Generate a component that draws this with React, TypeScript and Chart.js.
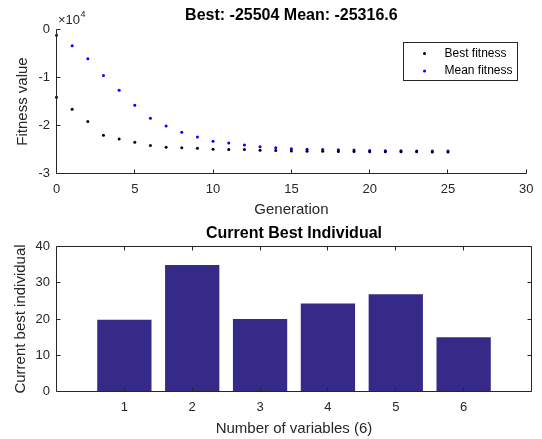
import React, { useEffect, useRef } from 'react';
import { Chart, registerables } from 'chart.js';

Chart.register(...registerables);

// ---------- data ----------
const generations = [0, 1, 2, 3, 4, 5, 6, 7, 8, 9, 10, 11, 12, 13, 14, 15, 16, 17, 18, 19, 20, 21, 22, 23, 24, 25];
const bestFitness = [
  -14100, -16600, -19170, -22020, -22790, -23480, -24170, -24520, -24660, -24730,
  -24940, -25000, -25000, -25140, -25200, -25300, -25350, -25380, -25400, -25430,
  -25450, -25470, -25480, -25490, -25500, -25504,
];
const meanFitness = [
  -1190, -3400, -6100, -9600, -12650, -15770, -18480, -20080, -21400, -22370,
  -23270, -23620, -24040, -24450, -24660, -24850, -24950, -25000, -25060, -25120,
  -25200, -25250, -25280, -25300, -25310, -25316.6,
];
const bestValue = -25504;
const meanValue = -25316.6;
const seriesLabels = ['Best fitness', 'Mean fitness'];
const fitnessExponent = 4;

const variableIndex = [1, 2, 3, 4, 5, 6];
const bestIndividual = [19.8, 34.9, 20.0, 24.3, 26.8, 15.0];
const variableTicks = [1, 2, 3, 4, 5, 6];

// ---------- style ----------
const FONT = "'Liberation Sans', Arial, Helvetica, sans-serif";
const AXIS = '#262626';
const BAR = '#352A87';
const W = 542;
const TOP_H = 222;
const BOT_H = 217;

function snap(v: number) {
  return Math.round(v - 0.5) + 0.5;
}

function axesPlugin(box: boolean) {
  return {
    id: 'matlabAxes' + (box ? 'Box' : ''),
    afterDatasetsDraw(chart: any) {
      const { ctx, chartArea } = chart;
      const { left, right, top, bottom } = chartArea;
      const x = chart.scales.x;
      const y = chart.scales.y;
      const L = snap(left), R = snap(right), T = snap(top), B = snap(bottom);
      ctx.save();
      ctx.strokeStyle = AXIS;
      ctx.lineWidth = 1;
      ctx.beginPath();
      if (box) {
        ctx.rect(L, T, R - L, B - T);
      } else {
        ctx.moveTo(L, T);
        ctx.lineTo(L, B);
        ctx.lineTo(R, B);
      }
      const tl = 4;
      x.ticks.forEach((t: any) => {
        const px = snap(x.getPixelForValue(t.value));
        ctx.moveTo(px, B);
        ctx.lineTo(px, B - tl);
        if (box) {
          ctx.moveTo(px, T);
          ctx.lineTo(px, T + tl);
        }
      });
      y.ticks.forEach((t: any) => {
        const py = snap(y.getPixelForValue(t.value));
        ctx.moveTo(L, py);
        ctx.lineTo(L + tl, py);
        if (box) {
          ctx.moveTo(R, py);
          ctx.lineTo(R - tl, py);
        }
      });
      ctx.stroke();
      ctx.restore();
    },
  };
}

function titlePlugin(text: string, cy: number) {
  return {
    id: 'matlabTitle',
    afterDraw(chart: any) {
      const { ctx, chartArea } = chart;
      ctx.save();
      ctx.fillStyle = '#000000';
      ctx.font = `bold 16px ${FONT}`;
      ctx.textAlign = 'center';
      ctx.textBaseline = 'middle';
      ctx.fillText(text, (chartArea.left + chartArea.right) / 2, cy);
      ctx.restore();
    },
  };
}

const exponentPlugin = {
  id: 'exponentLabel',
  afterDraw(chart: any) {
    const { ctx, chartArea } = chart;
    ctx.save();
    ctx.fillStyle = AXIS;
    ctx.textBaseline = 'middle';
    ctx.textAlign = 'left';
    ctx.font = `13px ${FONT}`;
    const x0 = chartArea.left + 1.5;
    const base = '\u00D710';
    ctx.fillText(base, x0, 20.5);
    const w = ctx.measureText(base).width;
    ctx.font = `9px ${FONT}`;
    ctx.fillText(String(fitnessExponent), x0 + w + 0.5, 15);
    ctx.restore();
  },
};

const legendPlugin = {
  id: 'boxLegend',
  afterDraw(chart: any) {
    const { ctx } = chart;
    const bx = 403.5, by = 42.5, bw = 114, bh = 38;
    ctx.save();
    ctx.fillStyle = '#ffffff';
    ctx.fillRect(bx, by, bw, bh);
    ctx.strokeStyle = AXIS;
    ctx.lineWidth = 1;
    ctx.strokeRect(bx, by, bw, bh);
    ctx.font = `12px ${FONT}`;
    ctx.textBaseline = 'middle';
    ctx.textAlign = 'left';
    chart.data.datasets.forEach((ds: any, i: number) => {
      const cy = by + 11 + i * 17.5;
      ctx.fillStyle = ds.backgroundColor;
      ctx.beginPath();
      ctx.arc(bx + 21, cy, 1.5, 0, Math.PI * 2);
      ctx.fill();
      ctx.fillStyle = '#000000';
      ctx.fillText(seriesLabels[i], bx + 41, cy);
    });
    ctx.restore();
  },
};

function FitnessChart() {
  const ref = useRef<HTMLCanvasElement | null>(null);
  useEffect(() => {
    if (!ref.current) return;
    const chart = new Chart(ref.current, {
      type: 'scatter',
      data: {
        datasets: [
          {
            label: seriesLabels[0],
            data: generations.map((g, i) => ({ x: g, y: bestFitness[i] })),
            backgroundColor: '#000000',
            borderColor: '#000000',
            pointRadius: 1.5,
            borderWidth: 0,
            showLine: false,
            clip: false,
          },
          {
            label: seriesLabels[1],
            data: generations.map((g, i) => ({ x: g, y: meanFitness[i] })),
            backgroundColor: '#0000FF',
            borderColor: '#0000FF',
            pointRadius: 1.5,
            borderWidth: 0,
            showLine: false,
            clip: false,
          },
        ],
      },
      options: {
        responsive: false,
        animation: false,
        devicePixelRatio: 1,
        layout: { padding: { top: 29.5, right: 10.5, left: 0, bottom: 0 } },
        plugins: { legend: { display: false }, title: { display: false }, tooltip: { enabled: false } },
        scales: {
          x: {
            type: 'linear',
            min: 0,
            max: 30,
            offset: false,
            grid: { display: false, drawTicks: false },
            border: { display: false },
            ticks: { stepSize: 5, padding: 8.5, color: AXIS, font: { family: FONT, size: 13 }, maxRotation: 0 },
            title: { display: true, text: 'Generation', color: AXIS, font: { family: FONT, size: 15 }, padding: { top: 0, bottom: 3 } },
            afterFit: (s: any) => { s.height = TOP_H - 173.5; },
          },
          y: {
            type: 'linear',
            min: -30000,
            max: 0,
            grid: { display: false, drawTicks: false },
            border: { display: false },
            ticks: {
              stepSize: 10000,
              padding: 6.5,
              color: AXIS,
              font: { family: FONT, size: 13 },
              callback: (v: any) => String(Number(v) / Math.pow(10, fitnessExponent)),
            },
            title: { display: true, text: 'Fitness value', color: AXIS, font: { family: FONT, size: 15 }, padding: { top: 14, bottom: 0 } },
            afterFit: (s: any) => { s.width = 56.5; },
          },
        },
      },
      plugins: [axesPlugin(false), titlePlugin(`Best: ${bestValue} Mean: ${meanValue}`, 15.5), exponentPlugin, legendPlugin],
    } as any);
    return () => chart.destroy();
  }, []);
  return <canvas ref={ref} width={W} height={TOP_H} style={{ position: 'absolute', left: 0, top: 0, width: W, height: TOP_H, display: 'block' }} />;
}

function IndividualChart() {
  const ref = useRef<HTMLCanvasElement | null>(null);
  useEffect(() => {
    if (!ref.current) return;
    const chart = new Chart(ref.current, {
      type: 'bar',
      data: {
        datasets: [
          {
            label: 'Current best individual',
            data: variableIndex.map((v, i) => ({ x: v, y: bestIndividual[i] })),
            backgroundColor: BAR,
            borderWidth: 0,
            categoryPercentage: 1,
            barPercentage: 0.8,
          },
        ],
      },
      options: {
        responsive: false,
        animation: false,
        devicePixelRatio: 1,
        layout: { padding: { top: 24.5, right: 10.5, left: 0, bottom: 0 } },
        plugins: { legend: { display: false }, title: { display: false }, tooltip: { enabled: false } },
        scales: {
          x: {
            type: 'linear',
            min: 0,
            max: 7,
            offset: false,
            grid: { display: false, drawTicks: false, offset: false },
            border: { display: false },
            afterBuildTicks: (s: any) => { s.ticks = variableTicks.map((v) => ({ value: v })); },
            ticks: { padding: 8.5, color: AXIS, font: { family: FONT, size: 13 }, maxRotation: 0, autoSkip: false },
            title: { display: true, text: `Number of variables (${variableIndex.length})`, color: AXIS, font: { family: FONT, size: 15 }, padding: { top: 0, bottom: 1 } },
            afterFit: (s: any) => { s.height = BOT_H - 169.5; },
          },
          y: {
            type: 'linear',
            min: 0,
            max: 40,
            grid: { display: false, drawTicks: false },
            border: { display: false },
            ticks: { stepSize: 10, padding: 6.5, color: AXIS, font: { family: FONT, size: 13 } },
            title: { display: true, text: 'Current best individual', color: AXIS, font: { family: FONT, size: 15 }, padding: { top: 11.8, bottom: 0 } },
            afterFit: (s: any) => { s.width = 56.5; },
          },
        },
      },
      plugins: [axesPlugin(true), titlePlugin('Current Best Individual', 11.3)],
    } as any);
    return () => chart.destroy();
  }, []);
  return <canvas ref={ref} width={W} height={BOT_H} style={{ position: 'absolute', left: 0, top: TOP_H, width: W, height: BOT_H, display: 'block' }} />;
}

export default function App() {
  return (
    <div style={{ position: 'absolute', left: 0, top: 0, width: W, height: TOP_H + BOT_H, background: '#ffffff', overflow: 'hidden' }}>
      <FitnessChart />
      <IndividualChart />
    </div>
  );
}
